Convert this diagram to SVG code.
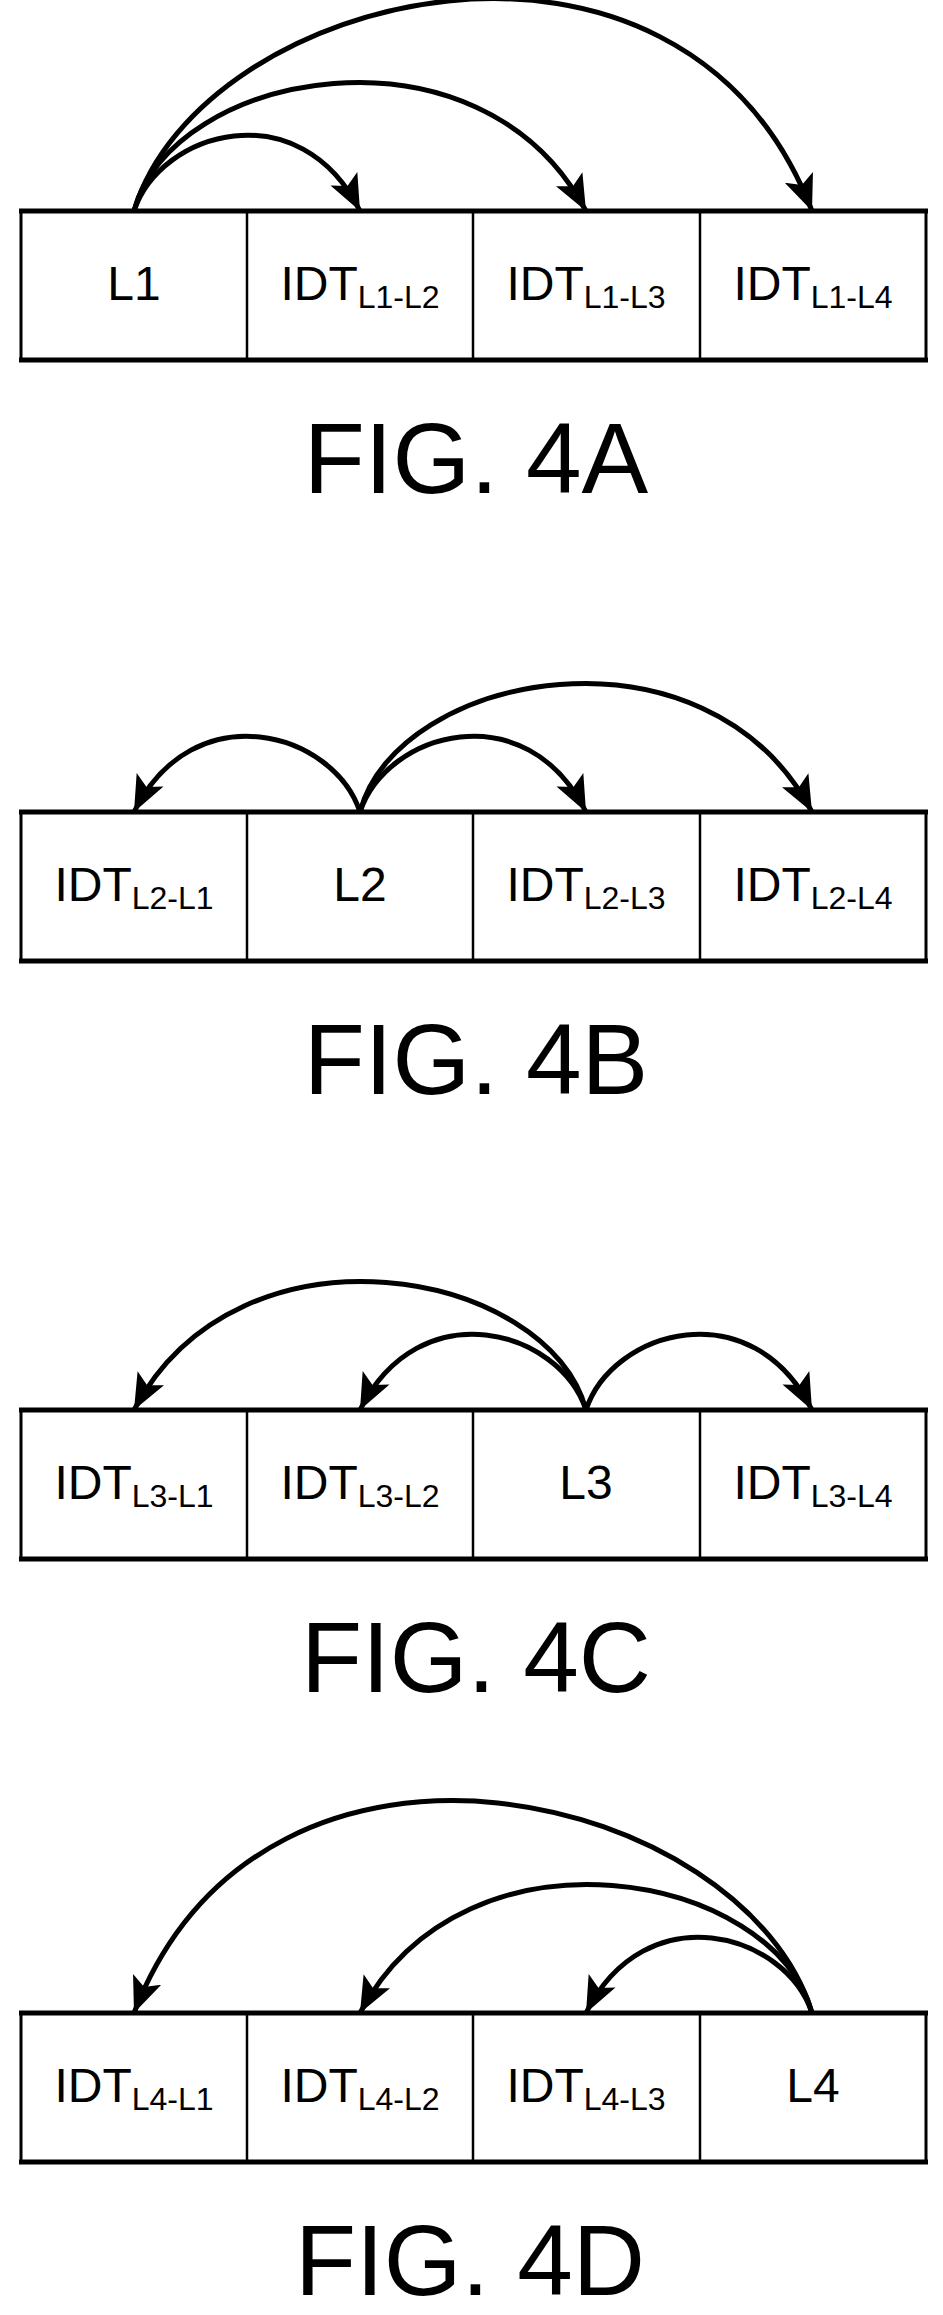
<svg xmlns="http://www.w3.org/2000/svg" width="943" height="2315" viewBox="0 0 943 2315">
<style>
.box{fill:#fff;stroke:#000;stroke-width:3}
.edge{stroke:#000;stroke-width:5}
.div{stroke:#000;stroke-width:2.5}
.arc{fill:none;stroke:#000;stroke-width:5;marker-end:url(#ah)}
.t{font-family:"Liberation Sans",Arial,sans-serif;font-size:48px;text-anchor:middle;fill:#000}
.s{font-size:32px}
.cap{font-family:"Liberation Sans",Arial,sans-serif;font-size:100px;text-anchor:middle;fill:#000}
</style>
<defs>
<marker id="ah" markerUnits="userSpaceOnUse" markerWidth="38" markerHeight="30" refX="36" refY="15" orient="auto">
<path d="M0,0 L36,15 L0,30 L8,15 z" fill="#000"/>
</marker>
<g id="frame">
<rect class="box" x="21" y="0" width="905" height="149"/>
<line class="edge" x1="19" y1="0" x2="928" y2="0"/>
<line class="edge" x1="19" y1="149" x2="928" y2="149"/>
<line class="div" x1="247" y1="0" x2="247" y2="149"/>
<line class="div" x1="473" y1="0" x2="473" y2="149"/>
<line class="div" x1="700" y1="0" x2="700" y2="149"/>
</g>
</defs>

<g id="fig4a" transform="translate(0,211)">
<use href="#frame"/>
<g id="connectors-4a">
<path class="arc" d="M134,0 C160,-80 300,-120 360,0"/>
<path class="arc" d="M134,0 C170,-140 480,-200 586,0"/>
<path class="arc" d="M134,0 C200,-220 680,-340 812,0"/>
</g>
<g id="n4a1"><text class="t" x="134" y="89">L1</text></g>
<g id="n4a2"><text class="t" x="360" y="89">IDT<tspan class="s" dy="8">L1-L2</tspan></text></g>
<g id="n4a3"><text class="t" x="586" y="89">IDT<tspan class="s" dy="8">L1-L3</tspan></text></g>
<g id="n4a4"><text class="t" x="813" y="89">IDT<tspan class="s" dy="8">L1-L4</tspan></text></g>
<text class="cap" x="476" y="282">FIG. 4A</text>
</g>

<g id="fig4b" transform="translate(0,812)">
<use href="#frame"/>
<g id="connectors-4b">
<path class="arc" d="M360,0 C334,-80 194,-120 134,0"/>
<path class="arc" d="M360,0 C386,-80 526,-120 586,0"/>
<path class="arc" d="M360,0 C396,-140 706,-200 812,0"/>
</g>
<g id="n4b1"><text class="t" x="134" y="89">IDT<tspan class="s" dy="8">L2-L1</tspan></text></g>
<g id="n4b2"><text class="t" x="360" y="89">L2</text></g>
<g id="n4b3"><text class="t" x="586" y="89">IDT<tspan class="s" dy="8">L2-L3</tspan></text></g>
<g id="n4b4"><text class="t" x="813" y="89">IDT<tspan class="s" dy="8">L2-L4</tspan></text></g>
<text class="cap" x="476" y="282">FIG. 4B</text>
</g>

<g id="fig4c" transform="translate(0,1410)">
<use href="#frame"/>
<g id="connectors-4c">
<path class="arc" d="M586,0 C560,-80 420,-120 360,0"/>
<path class="arc" d="M586,0 C550,-140 240,-200 134,0"/>
<path class="arc" d="M586,0 C612,-80 752,-120 812,0"/>
</g>
<g id="n4c1"><text class="t" x="134" y="89">IDT<tspan class="s" dy="8">L3-L1</tspan></text></g>
<g id="n4c2"><text class="t" x="360" y="89">IDT<tspan class="s" dy="8">L3-L2</tspan></text></g>
<g id="n4c3"><text class="t" x="586" y="89">L3</text></g>
<g id="n4c4"><text class="t" x="813" y="89">IDT<tspan class="s" dy="8">L3-L4</tspan></text></g>
<text class="cap" x="476" y="282">FIG. 4C</text>
</g>

<g id="fig4d" transform="translate(0,2013)">
<use href="#frame"/>
<g id="connectors-4d">
<path class="arc" d="M812,0 C786,-80 646,-120 586,0"/>
<path class="arc" d="M812,0 C776,-140 466,-200 360,0"/>
<path class="arc" d="M812,0 C746,-220 266,-340 134,0"/>
</g>
<g id="n4d1"><text class="t" x="134" y="89">IDT<tspan class="s" dy="8">L4-L1</tspan></text></g>
<g id="n4d2"><text class="t" x="360" y="89">IDT<tspan class="s" dy="8">L4-L2</tspan></text></g>
<g id="n4d3"><text class="t" x="586" y="89">IDT<tspan class="s" dy="8">L4-L3</tspan></text></g>
<g id="n4d4"><text class="t" x="813" y="89">L4</text></g>
<text class="cap" x="470" y="282">FIG. 4D</text>
</g>
</svg>
